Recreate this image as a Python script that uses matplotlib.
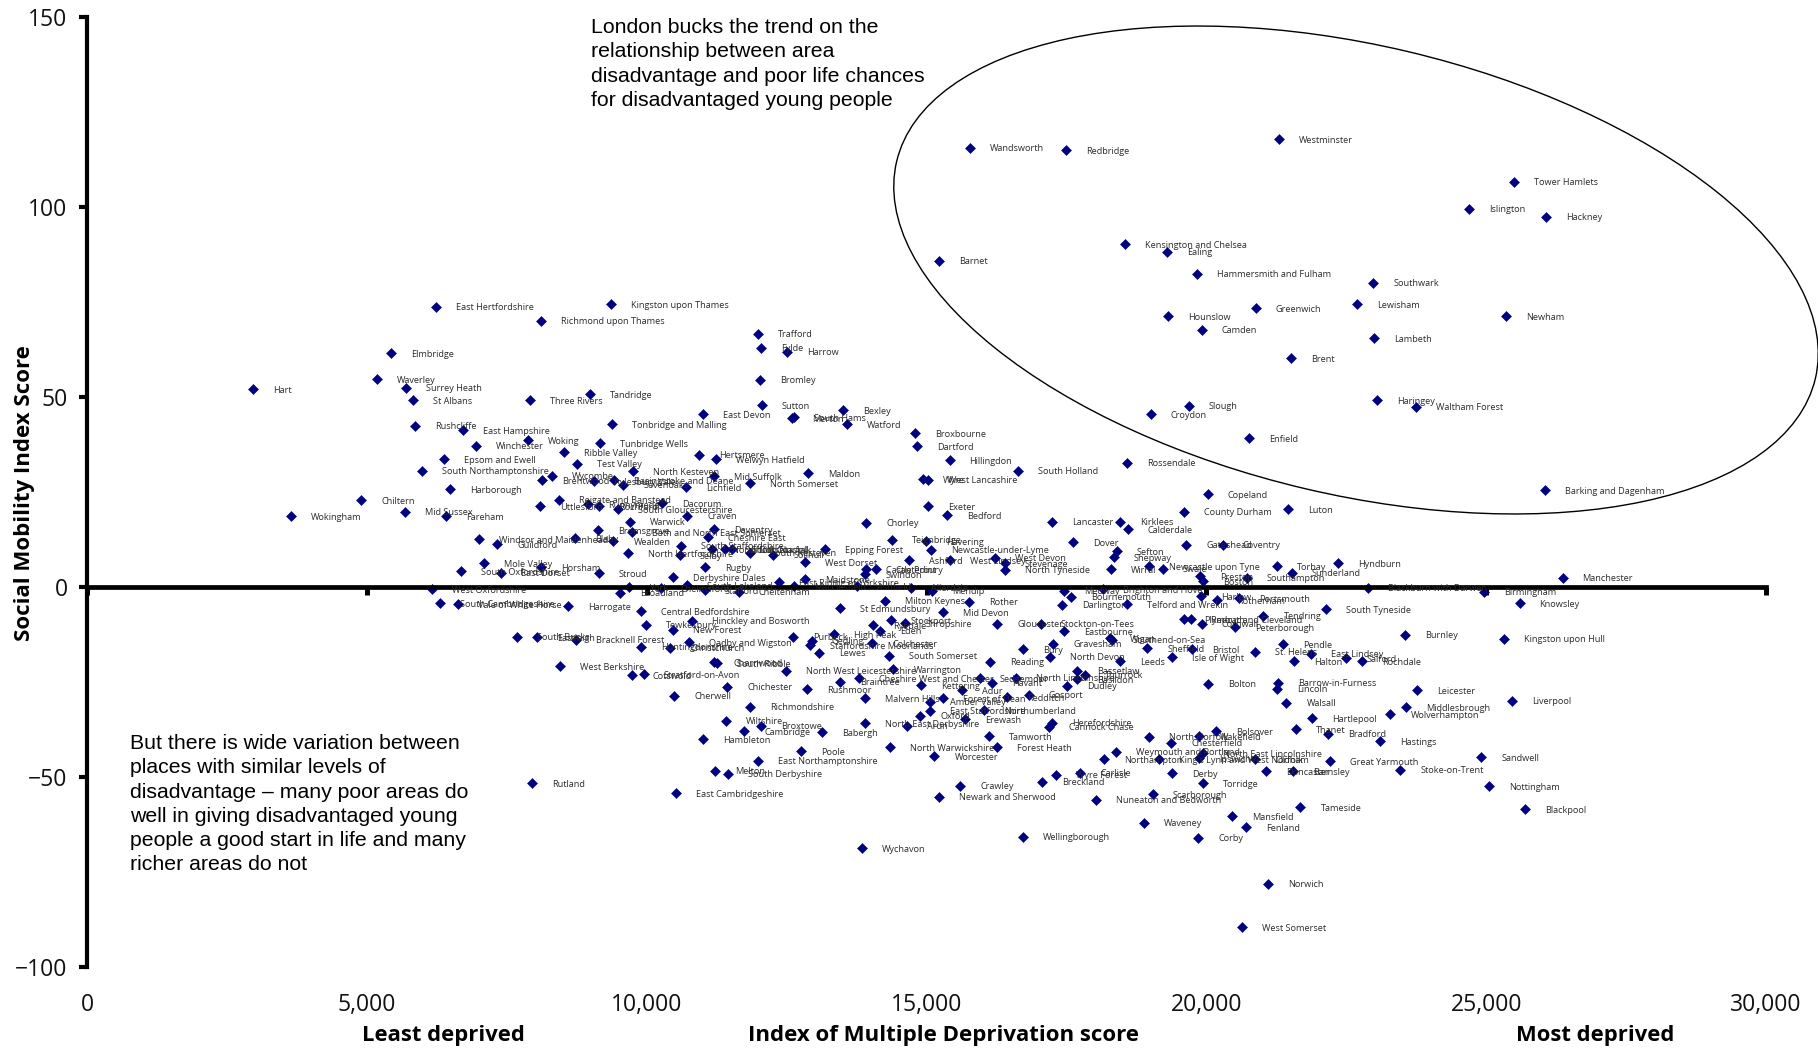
import matplotlib
matplotlib.use('Agg')
import matplotlib.pyplot as plt
from matplotlib.patches import Ellipse
from matplotlib.ticker import FuncFormatter
from matplotlib.transforms import IdentityTransform

names = [
    "Wandsworth", "Redbridge", "Westminster", "Tower Hamlets", "Islington", "Hackney",
    "Kensington and Chelsea", "Ealing", "Barnet", "Hammersmith and Fulham", "Southwark", "Lewisham",
    "Greenwich", "Hounslow", "Newham", "Camden", "Lambeth", "Brent",
    "Haringey", "Waltham Forest", "Slough", "Croydon", "Enfield", "Broxbourne",
    "Dartford", "Hillingdon", "South Holland", "Rossendale", "Wyre", "West Lancashire",
    "Barking and Dagenham", "Copeland", "County Durham", "Luton", "Exeter", "Bedford",
    "Kingston upon Thames", "Trafford", "Fylde", "Harrow", "Bromley", "Sutton",
    "Tandridge", "East Devon", "South Hams", "Merton", "Bexley", "Watford",
    "Tonbridge and Malling", "Tunbridge Wells", "Ribble Valley", "Test Valley", "Hertsmere", "Welwyn Hatfield",
    "North Kesteven", "Mid Suffolk", "Maldon", "North Somerset", "Basingstoke and Deane", "Aylesbury Vale",
    "Sevenoaks", "Lichfield", "East Hertfordshire", "Richmond upon Thames", "Elmbridge", "Waverley",
    "Surrey Heath", "St Albans", "Hart", "Three Rivers", "Rushcliffe", "East Hampshire",
    "Winchester", "Woking", "Epsom and Ewell", "South Northamptonshire", "Harborough", "Brentwood",
    "Wycombe", "Chiltern", "Mid Sussex", "Fareham", "Wokingham", "Uttlesford",
    "Reigate and Banstead", "Runnymede", "Rochford", "South Gloucestershire", "Dacorum", "Craven",
    "Warwick", "Bromsgrove", "Bath and North East Somerset", "Daventry", "Cheshire East", "Windsor and Maidenhead",
    "Guildford", "Blaby", "Wealden", "North Hertfordshire", "South Staffordshire", "Selby",
    "North Dorset", "Suffolk Coastal", "South Norfolk", "South Kesteven", "Solihull", "Epping Forest",
    "West Dorset", "Rugby", "Mole Valley", "South Oxfordshire", "East Dorset", "Horsham",
    "Stroud", "Derbyshire Dales", "South Lakeland", "York", "Broadland", "West Oxfordshire",
    "Chelmsford", "Stafford", "Cheltenham", "East Riding of Yorkshire", "Maidstone", "Macclesfield",
    "Ashfield", "Allerdale", "Chorley", "Teignbridge", "Havering", "Newcastle-under-Lyme",
    "Canterbury", "Castle Point", "Swindon", "Ashford", "West Lindsey", "West Devon",
    "Stevenage", "North Tyneside", "Lancaster", "Kirklees", "Calderdale", "Dover",
    "Sefton", "Shepway", "Wirral", "Newcastle upon Tyne", "Swale", "St Edmundsbury",
    "Milton Keynes", "Rother", "Mid Devon", "Medway", "Bournemouth", "Darlington",
    "Brighton and Hove", "Telford and Wrekin", "Mendip", "Hinckley and Bosworth", "Tewkesbury", "New Forest",
    "Central Bedfordshire", "Harrogate", "South Cambridgeshire", "Vale of White Horse", "South Bucks", "Eastleigh",
    "Bracknell Forest", "Huntingdonshire", "Christchurch", "Oadby and Wigston", "Purbeck", "Gedling",
    "Staffordshire Moorlands", "Lewes", "High Peak", "Ryedale", "Eden", "Stockport",
    "Shropshire", "Colchester", "South Somerset", "Gloucester", "Stockton-on-Tees", "Eastbourne",
    "Wigan", "Southend-on-Sea", "Bury", "Gravesham", "North Devon", "Leeds",
    "Sheffield", "Isle of Wight", "Bristol", "Charnwood", "South Ribble", "North West Leicestershire",
    "Cotswold", "Stratford-on-Avon", "West Berkshire", "Chichester", "Cherwell", "Richmondshire",
    "Wiltshire", "Cambridge", "Broxtowe", "Hambleton", "Babergh", "North East Derbyshire",
    "Rushmoor", "Braintree", "Cheshire West and Chester", "Warrington", "Malvern Hills", "Kettering",
    "Sedgemoor", "Adur", "Havant", "North Lincolnshire", "Forest of Dean", "Redditch",
    "Gosport", "Amber Valley", "East Staffordshire", "Northumberland", "Oxford", "Erewash",
    "Arun", "Tamworth", "Herefordshire", "Cannock Chase", "Bassetlaw", "Thurrock",
    "Basildon", "Dudley", "Reading", "Poole", "North Warwickshire", "Worcester",
    "Forest Heath", "East Northamptonshire", "Melton", "South Derbyshire", "East Cambridgeshire", "Rutland",
    "Crawley", "Newark and Sherwood", "Wellingborough", "Wychavon", "Breckland", "Wyre Forest",
    "Carlisle", "Nuneaton and Bedworth", "Northampton", "Weymouth and Portland", "North Norfolk", "Chesterfield",
    "Wakefield", "Bolsover", "Thanet", "Bradford", "Hartlepool", "Hastings",
    "Wolverhampton", "Middlesbrough", "Leicester", "Walsall", "Barrow-in-Furness", "Lincoln",
    "Bolton", "King's Lynn and West Norfolk", "Ipswich", "North East Lincolnshire", "Oldham", "Derby",
    "Torridge", "Doncaster", "Barnsley", "Great Yarmouth", "Stoke-on-Trent", "Sandwell",
    "Nottingham", "Blackpool", "Scarborough", "Tameside", "Mansfield", "Fenland",
    "Waveney", "Corby", "Norwich", "West Somerset", "Gateshead", "Coventry",
    "Torbay", "Sunderland", "Hyndburn", "Preston", "Boston", "Southampton",
    "Harlow", "Rotherham", "Portsmouth", "Blackburn with Darwen", "Birmingham", "South Tyneside",
    "Tendring", "Plymouth", "Redcar and Cleveland", "Cornwall", "Peterborough", "Burnley",
    "Kingston upon Hull", "Pendle", "St. Helens", "East Lindsey", "Halton", "Salford",
    "Rochdale", "Liverpool", "Knowsley", "Manchester",
]

deprivation = [
    15775, 17496, 21301, 25492, 24690, 26069,
    18554, 19302, 15229, 19837, 22980, 22691,
    20884, 19324, 25363, 19922, 23001, 21515,
    23054, 23749, 19687, 19003, 20767, 14791,
    14834, 15411, 16640, 18586, 14941, 15026,
    26048, 20029, 19601, 21462, 15026, 15368,
    9358, 11990, 12044, 12508, 12020, 12062,
    8993, 11001, 12628, 12592, 13503, 13580,
    9375, 9172, 8523, 8755, 10936, 11240,
    9751, 11198, 12890, 11847, 9411, 9065,
    9584, 10704, 6242, 8106, 5432, 5176,
    5694, 5825, 2972, 7909, 5867, 6712,
    6951, 7886, 6385, 5986, 6486, 8124,
    8308, 4902, 5688, 6408, 3645, 8094,
    8434, 8958, 9155, 9494, 10268, 10727,
    9697, 9137, 9732, 11204, 11096, 7000,
    7332, 8726, 9405, 9673, 10620, 10590,
    11168, 11400, 11519, 11853, 12264, 13188,
    12831, 11037, 7100, 6683, 7404, 8118,
    9143, 10465, 10727, 9691, 9524, 6165,
    10250, 11043, 11644, 12365, 12837, 12628,
    13754, 14725, 13927, 14379, 14993, 15088,
    14093, 13915, 13909, 14683, 15416, 16232,
    16404, 16398, 17238, 18453, 18596, 17619,
    18400, 18346, 18292, 18983, 19221, 13462,
    14254, 15767, 15291, 17453, 17584, 17417,
    18149, 18578, 15106, 10805, 9983, 10471,
    9905, 8589, 6314, 6629, 7678, 8047,
    8738, 9899, 10417, 10763, 12610, 12950,
    12920, 13087, 13349, 14052, 14171, 14361,
    14618, 14028, 14326, 16267, 17042, 17464,
    18281, 18316, 16732, 17262, 17214, 18459,
    18942, 19383, 19752, 11198, 11257, 12491,
    9744, 9947, 8446, 11442, 10495, 11841,
    11412, 11740, 12043, 11013, 13140, 13909,
    12872, 13456, 13790, 14409, 13909, 14897,
    15952, 15642, 16178, 16601, 15302, 16434,
    16827, 15070, 15064, 16029, 14885, 15690,
    14647, 16112, 17238, 17196, 17685, 17834,
    17697, 17506, 16130, 12759, 14355, 15142,
    16255, 11996, 11227, 11454, 10519, 7958,
    15606, 15219, 16726, 13843, 17071, 17310,
    17744, 18030, 18173, 18394, 18984, 19377,
    19877, 20181, 21599, 22182, 21885, 23106,
    23290, 23564, 23767, 21432, 21289, 21271,
    20026, 19151, 19877, 19949, 20878, 19383,
    19943, 21069, 21545, 22212, 23469, 24910,
    25059, 25691, 19044, 21682, 20467, 20711,
    18889, 19860, 21104, 20633, 19639, 20294,
    21265, 21527, 22349, 19889, 19943, 20723,
    19907, 20187, 20580, 22891, 24964, 22147,
    21021, 19598, 19723, 19919, 20521, 23558,
    25315, 21378, 20878, 21867, 21563, 22498,
    22778, 25459, 25596, 26364,
]

mobility = [
    115.6, 115.0, 117.9, 106.7, 99.6, 97.4,
    90.2, 88.2, 85.9, 82.4, 80.1, 74.4,
    73.3, 71.2, 71.2, 67.7, 65.5, 60.2,
    49.2, 47.4, 47.7, 45.5, 39.2, 40.5,
    37.1, 33.4, 30.6, 32.7, 28.4, 28.2,
    25.4, 24.5, 19.8, 20.5, 21.3, 18.9,
    74.5, 66.7, 63.0, 61.9, 54.6, 47.8,
    50.8, 45.5, 44.7, 44.5, 46.6, 42.8,
    42.8, 37.8, 35.5, 32.5, 34.8, 33.6,
    30.5, 29.2, 30.0, 27.3, 28.1, 27.9,
    26.9, 26.2, 73.8, 70.1, 61.5, 54.7,
    52.4, 49.2, 52.1, 49.1, 42.4, 41.3,
    37.2, 38.7, 33.7, 30.6, 25.7, 28.1,
    29.3, 22.8, 19.8, 18.7, 18.6, 21.3,
    23.0, 21.8, 21.3, 20.4, 22.0, 18.8,
    17.2, 15.0, 14.4, 15.2, 13.1, 12.6,
    11.3, 12.8, 12.1, 8.9, 10.9, 8.4,
    10.0, 9.9, 9.9, 9.0, 8.5, 9.9,
    6.5, 5.2, 6.2, 4.2, 3.8, 5.2,
    3.7, 2.6, 0.4, -0.1, -1.5, -0.5,
    -0.3, -0.8, -1.2, 1.2, 2.1, 0.2,
    0.2, -0.2, 16.9, 12.4, 12.1, 9.8,
    4.7, 4.7, 3.4, 7.0, 7.0, 7.7,
    6.2, 4.6, 17.2, 17.2, 15.2, 11.8,
    9.4, 7.9, 4.7, 5.4, 4.8, -5.5,
    -3.6, -3.9, -6.7, -1.0, -2.5, -4.7,
    -0.5, -4.5, -1.0, -8.9, -9.9, -11.2,
    -6.3, -5.0, -4.2, -4.6, -13.1, -13.2,
    -13.9, -15.7, -16.0, -14.5, -13.1, -14.1,
    -15.3, -17.3, -12.4, -10.1, -11.5, -8.7,
    -9.6, -14.8, -18.1, -9.7, -9.7, -11.7,
    -13.5, -13.9, -16.4, -14.9, -18.3, -19.6,
    -16.1, -18.4, -16.4, -19.8, -20.0, -22.0,
    -23.2, -23.0, -20.9, -26.2, -28.6, -31.5,
    -35.2, -38.0, -36.5, -40.1, -38.2, -35.9,
    -26.9, -24.9, -24.0, -21.7, -29.3, -25.8,
    -24.0, -27.1, -25.2, -23.9, -29.2, -29.0,
    -28.3, -30.2, -32.5, -32.4, -33.9, -34.8,
    -36.5, -39.2, -35.7, -36.8, -22.0, -23.1,
    -24.3, -26.0, -19.7, -43.2, -42.1, -44.5,
    -42.2, -45.7, -48.3, -49.1, -54.2, -51.6,
    -52.3, -55.2, -65.7, -68.8, -51.2, -49.4,
    -48.9, -56.0, -45.3, -43.3, -39.4, -41.0,
    -39.2, -38.0, -37.4, -38.6, -34.6, -40.6,
    -33.4, -31.6, -27.1, -30.4, -25.2, -26.8,
    -25.4, -45.3, -45.1, -43.8, -45.3, -49.0,
    -51.7, -48.5, -48.4, -45.9, -48.1, -44.8,
    -52.4, -58.4, -54.5, -57.9, -60.3, -63.2,
    -62.0, -66.0, -78.1, -89.6, 11.1, 11.1,
    5.4, 3.8, 6.3, 2.9, 1.5, 2.4,
    -2.4, -3.5, -2.9, -0.2, -1.2, -5.9,
    -7.6, -8.5, -8.5, -9.7, -10.5, -12.6,
    -13.6, -15.1, -17.0, -17.6, -19.5, -18.8,
    -19.5, -29.9, -4.3, 2.5,
]

x_ticks = [0, 5000, 10000, 15000, 20000, 25000, 30000]
y_ticks = [-100, -50, 0, 50, 100, 150]

london_note = ("London bucks the trend on the\nrelationship between area\n"
               "disadvantage and poor life chances\nfor disadvantaged young people")
variation_note = ("But there is wide variation between\nplaces with similar levels of\n"
                  "disadvantage \u2013 many poor areas do\nwell in giving disadvantaged young\n"
                  "people a good start in life and many\nricher areas do not")

W, H = 1818, 1052
fig = plt.figure(figsize=(W / 100, H / 100), dpi=100)
ax = fig.add_axes([87 / W, 1 - 967 / H, 1679 / W, 950 / H])
ax.set_xlim(0, 30000)
ax.set_ylim(-100, 150)

ax.spines['top'].set_visible(False)
ax.spines['right'].set_visible(False)
ax.spines['left'].set_linewidth(3)
ax.spines['bottom'].set_position(('data', 0))
ax.spines['bottom'].set_linewidth(3.4)

ax.set_xticks(x_ticks)
ax.set_yticks(y_ticks)
ax.xaxis.set_major_formatter(FuncFormatter(lambda v, pos: f"{int(v):,}"))
# подписи оси x стоят внизу рисунка, хотя сама ось идёт через ноль
ax.tick_params(axis='x', direction='out', length=6, width=3.6, pad=286, labelsize=16.5)
ax.tick_params(axis='y', direction='out', length=6, width=3, pad=8, labelsize=16.5)
for label in ax.get_xticklabels() + ax.get_yticklabels():
    label.set_family('Open Sans')
    label.set_color('#111111')

ax.plot(deprivation, mobility, 'D', color='#000080', ms=5.3, mew=0.4, clip_on=False)
for name, x, y in zip(names, deprivation, mobility, strict=True):
    ax.annotate(name, (x, y), xytext=(14.4, -0.8), textcoords='offset points',
                fontsize=6.6, family='Open Sans', color='#2b2b2b', va='center', ha='left')

# овал вокруг Лондона задан в пикселях рисунка
oval = Ellipse((1356, H - 270), 944, 449, angle=-13.3, fill=False, edgecolor='black',
               linewidth=1.0, transform=IdentityTransform(), clip_on=False)
ax.add_patch(oval)

fig.text(591 / W, 1 - 18 / H, london_note, family='Liberation Sans', fontsize=15.3,
         va='top', ha='left', linespacing=1.35, color='black')
fig.text(130 / W, 1 - 734 / H, variation_note, family='Liberation Sans', fontsize=15.3,
         va='top', ha='left', linespacing=1.35, color='black')

fig.text(25 / W, 1 - 493 / H, 'Social Mobility Index Score', rotation=90, family='Open Sans',
         fontweight='bold', fontsize=16, va='center', ha='center')
fig.text(443 / W, 1 - 1035 / H, 'Least deprived', family='Open Sans',
         fontweight='bold', fontsize=15.8, va='center', ha='center')
fig.text(943 / W, 1 - 1035 / H, 'Index of Multiple Deprivation score', family='Open Sans',
         fontweight='bold', fontsize=16, va='center', ha='center')
fig.text(1595 / W, 1 - 1035 / H, 'Most deprived', family='Open Sans',
         fontweight='bold', fontsize=15.8, va='center', ha='center')

fig.savefig('out.png', dpi=100)
